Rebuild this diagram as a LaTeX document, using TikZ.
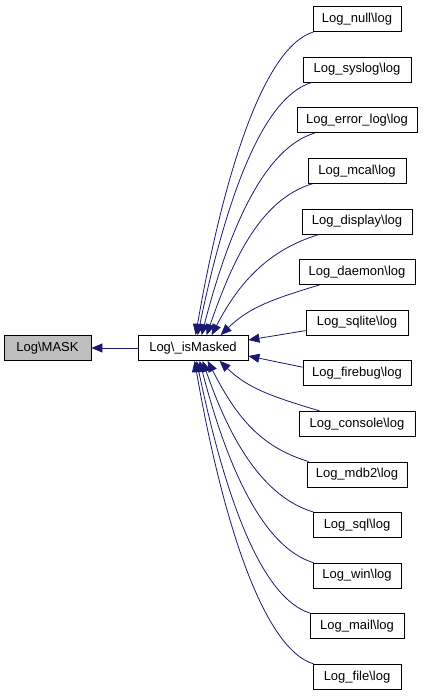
\documentclass[tikz,border=0pt]{standalone}
\usepackage{fontspec}
\setmainfont{Liberation Sans}
\usetikzlibrary{arrows.meta,positioning}
\definecolor{dEdge}{HTML}{191970}
\definecolor{dGray}{HTML}{BFBFBF}
\tikzset{
  fnbox/.style={draw=black, line width=0.8pt, minimum height=25pt, inner sep=0pt, font=\fontsize{13}{15}\selectfont},
  callarrow/.style={dEdge, line width=0.8pt, -{Triangle[length=11pt,width=9pt]}}
}
\begin{document}
\begin{tikzpicture}[x=1pt,y=-1pt]
  \useasboundingbox (0,0) rectangle (424,696);
  \node[fnbox, fill=dGray, minimum width=87pt] (mask) at (47.5,348) {Log\textbackslash MASK};
  \node[fnbox, minimum width=110pt] (isM) at (193,348) {Log\textbackslash\_isMasked};
  \draw[callarrow] (isM.west) -- (mask.east);
  % callers above
  \foreach \i/\nm/\lbl/\w/\dx/\ex/\k in {
     0/null/{Log\_null\textbackslash log}/88/1/58/161,
     1/syslog/{Log\_syslog\textbackslash log}/108/9/60/134,
     2/errlog/{Log\_error\_log\textbackslash log}/120/18/64/108,
     3/mcal/{Log\_mcal\textbackslash log}/98/5/69/81,
     4/display/{Log\_display\textbackslash log}/110/18/74/54,
     5/daemon/{Log\_daemon\textbackslash log}/116/21/83/27}{
     \node[fnbox, minimum width=\w pt] (\nm) at (357,19+50.6*\i) {\lbl};
     \draw[callarrow] ([xshift=\dx pt]\nm.south west) .. controls +(-50,15) and +(28,-\k) .. ([xshift=\ex pt]isM.north west);
  }
  % callers level with the node
  \node[fnbox, minimum width=102pt] (sqlite) at (357,322.6) {Log\_sqlite\textbackslash log};
  \node[fnbox, minimum width=108pt] (firebug) at (357,373.2) {Log\_firebug\textbackslash log};
  \draw[callarrow] ([yshift=-8pt]sqlite.west) -- ([yshift=8pt]isM.east);
  \draw[callarrow] ([yshift=6pt]firebug.west) -- ([yshift=-8pt]isM.east);
  % callers below
  \foreach \i/\nm/\lbl/\w/\dx/\ex/\k in {
     8/console/{Log\_console\textbackslash log}/116/21/82/27,
     9/mdbtwo/{Log\_mdb2\textbackslash log}/100/2/70/54,
     10/sql/{Log\_sql\textbackslash log}/88/1/65/81,
     11/win/{Log\_win\textbackslash log}/88/1/62/108,
     12/mail/{Log\_mail\textbackslash log}/94/1/59/134,
     13/file/{Log\_file\textbackslash log}/88/1/57/161}{
     \node[fnbox, minimum width=\w pt] (\nm) at (357,19+50.6*\i) {\lbl};
     \draw[callarrow] ([xshift=\dx pt]\nm.north west) .. controls +(-50,-15) and +(28,\k) .. ([xshift=\ex pt]isM.south west);
  }
\end{tikzpicture}
\end{document}
